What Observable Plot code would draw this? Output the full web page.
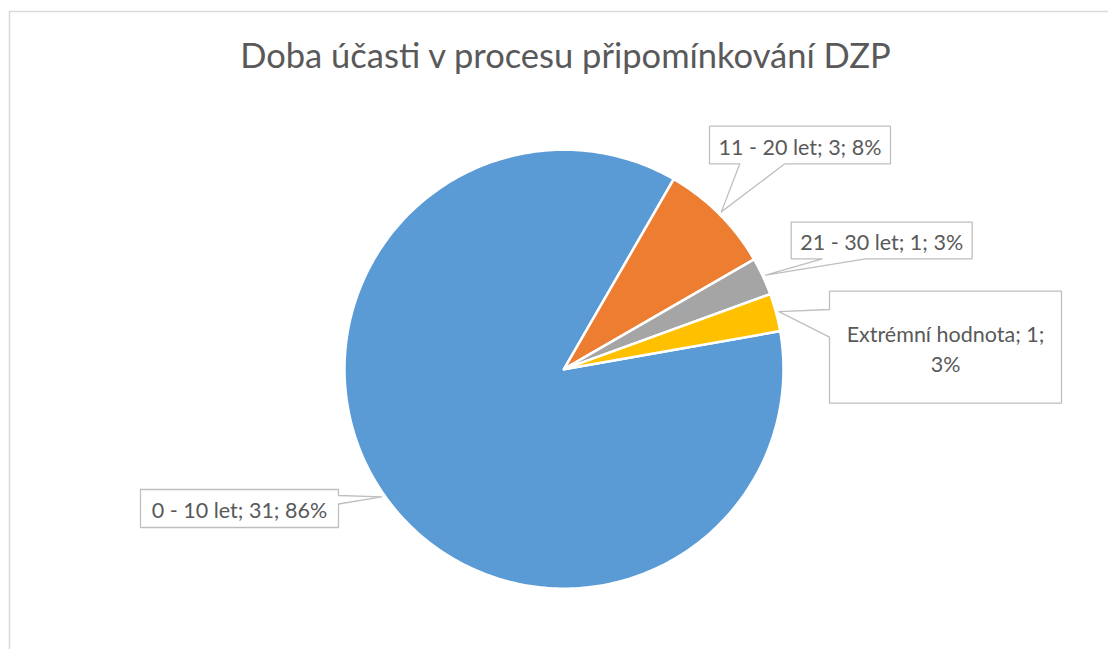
<!DOCTYPE html>
<html>
<head>
<meta charset="utf-8">
<script src="https://cdn.jsdelivr.net/npm/d3@7"></script>
<script src="https://cdn.jsdelivr.net/npm/@observablehq/plot@0.6"></script>
<style>
  html, body { margin: 0; padding: 0; background: #fff; }
  #chart { width: 1108px; height: 649px; }
</style>
</head>
<body>
<div id="chart"></div>
<script>
// ---- data ----
const title = "Doba účasti v procesu připomínkování DZP";
const categories = ["0 - 10 let", "11 - 20 let", "21 - 30 let", "Extrémní hodnota"];
const counts = [31, 3, 1, 1];
const colors = ["#5B9BD5", "#ED7D31", "#A5A5A5", "#FFC000"];

// ---- layout (pixels) ----
const pieLayout = {cx: 563.5, cy: 368.7, r: 219.5, startDeg: 80};
const calloutLayout = [
  {box: [140, 489, 338, 527], side: "right", base: [495, 503.5], wrap: false},
  {box: [709, 125.7, 890, 163.3], side: "bottom", base: [739.3, 784.3], wrap: false},
  {box: [790.7, 221.7, 971.7, 258.3], side: "bottom", base: [821.7, 865], wrap: false},
  {box: [829, 290.7, 1061, 402.7], side: "left", base: [309, 336.7], wrap: true}
];
const borderPath = [[9, 649], [9, 11], [1108, 11]];

// ---- computed ----
const total = d3.sum(counts);
const rows = categories.map((c, i) => ({category: c, count: counts[i], pct: Math.round(counts[i] / total * 100)}));
const start = pieLayout.startDeg * Math.PI / 180;
const arcs = d3.pie().sort(null).value(d => d.count).startAngle(start).endAngle(start + 2 * Math.PI)(rows);

const {cx, cy, r} = pieLayout;
const pt = (a, rad) => [cx + rad * Math.sin(a), cy - rad * Math.cos(a)];

const slicePts = [];
arcs.forEach(a => {
  const cat = a.data.category;
  slicePts.push({category: cat, x: cx, y: cy});
  const n = Math.max(2, Math.ceil((a.endAngle - a.startAngle) * 180 / Math.PI));
  for (let k = 0; k <= n; k++) {
    const t = a.startAngle + (a.endAngle - a.startAngle) * k / n;
    const [x, y] = pt(t, r);
    slicePts.push({category: cat, x, y});
  }
});

const calloutPts = [];
const labels = [];
arcs.forEach((a, i) => {
  const L = calloutLayout[i];
  const [x0, y0, x1, y1] = L.box;
  const mid = (a.startAngle + a.endAngle) / 2;
  const tip = pt(mid, r + 3);
  let poly;
  if (L.side === "bottom") {
    poly = [[x0, y0], [x1, y0], [x1, y1], [L.base[1], y1], tip, [L.base[0], y1], [x0, y1]];
  } else if (L.side === "left") {
    poly = [[x0, y0], [x1, y0], [x1, y1], [x0, y1], [x0, L.base[1]], tip, [x0, L.base[0]]];
  } else {
    poly = [[x0, y0], [x1, y0], [x1, L.base[0]], tip, [x1, L.base[1]], [x1, y1], [x0, y1]];
  }
  poly.forEach(([x, y]) => calloutPts.push({id: i, x, y}));
  const d = a.data;
  const text = L.wrap
    ? `${d.category}; ${d.count};\n${d.pct}%`
    : `${d.category}; ${d.count}; ${d.pct}%`;
  labels.push({x: (x0 + x1) / 2, y: (y0 + y1) / 2, text});
});

const chart = Plot.plot({
  width: 1108,
  height: 649,
  margin: 0,
  x: {domain: [0, 1108], range: [0, 1108], axis: null},
  y: {domain: [0, 649], range: [0, 649], axis: null},
  color: {domain: categories, range: colors},
  style: {fontFamily: "Lato, 'Open Sans', sans-serif", background: "#fff"},
  marks: [
    Plot.line(borderPath, {x: d => d[0], y: d => d[1], stroke: "#D9D9D9", strokeWidth: 1.5}),
    Plot.text([title], {x: 565, y: 67.3, text: d => d, lineAnchor: "bottom", fontSize: 34.5, fontWeight: 400, fill: "#595959"}),
    Plot.line(slicePts, {x: "x", y: "y", z: "category", fill: "category", stroke: "white", strokeWidth: 2.5, strokeLinejoin: "round", curve: "linear-closed"}),
    Plot.line(calloutPts, {x: "x", y: "y", z: "id", fill: "white", stroke: "#BFBFBF", strokeWidth: 1.3, curve: "linear-closed"}),
    Plot.text(labels, {x: "x", y: "y", text: "text", lineAnchor: "middle", fontSize: 21.5, lineHeight: 1.4, fill: "#595959"})
  ]
});
document.getElementById("chart").appendChild(chart);
</script>
</body>
</html>
